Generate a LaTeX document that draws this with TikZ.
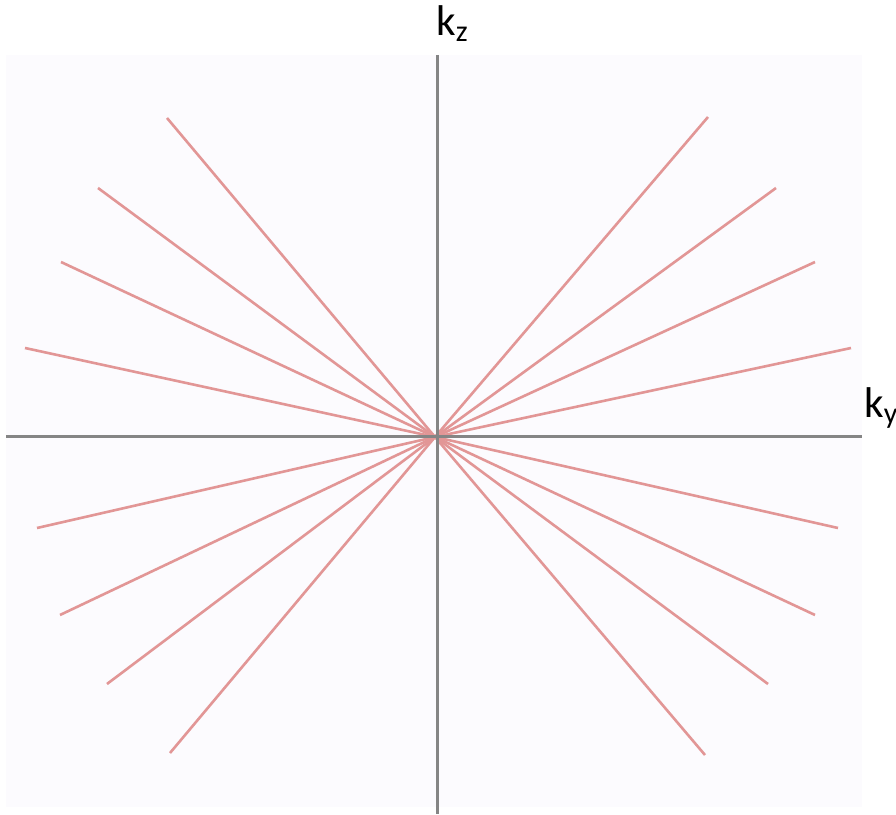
\documentclass[tikz,border=0pt]{standalone}
\usepackage{fontspec}
\setmainfont{Carlito}
\definecolor{bgc}{HTML}{FCFBFE}
\definecolor{raycol}{HTML}{E29696}
\definecolor{axiscol}{HTML}{858585}
\begin{document}
\begin{tikzpicture}[x=1pt,y=1pt,
  ray/.style={draw=raycol,line width=2.6pt},
  axis/.style={draw=axiscol,line width=3pt},
  lbl/.style={font=\fontsize{43}{45}\selectfont,inner sep=0pt,anchor=base west}]
\useasboundingbox (0,0) rectangle (896,814);
\fill[bgc] (6,7) rectangle (862,759);
\coordinate (O) at (435,377);
\coordinate (L) at (6,377);
\coordinate (R) at (862,377);
\coordinate (T) at (437,759);
\coordinate (Bt) at (437,0);
\foreach \px/\py in {167/118,98/188,61/262,25/348,708/117,776/188,815/262,851/348,
  37/528,60/615,107/684,170/753,838/528,815/615,768/684,705/755}
  \draw[ray] (O) -- (\px,814-\py);
\draw[axis] (L) -- (R);
\draw[axis] (T) -- (Bt);
\node[lbl] (kz) at (436,778) {k\textsubscript{z}};
\node[lbl] (ky) at (864,396) {k\textsubscript{y}};
\end{tikzpicture}
\end{document}
